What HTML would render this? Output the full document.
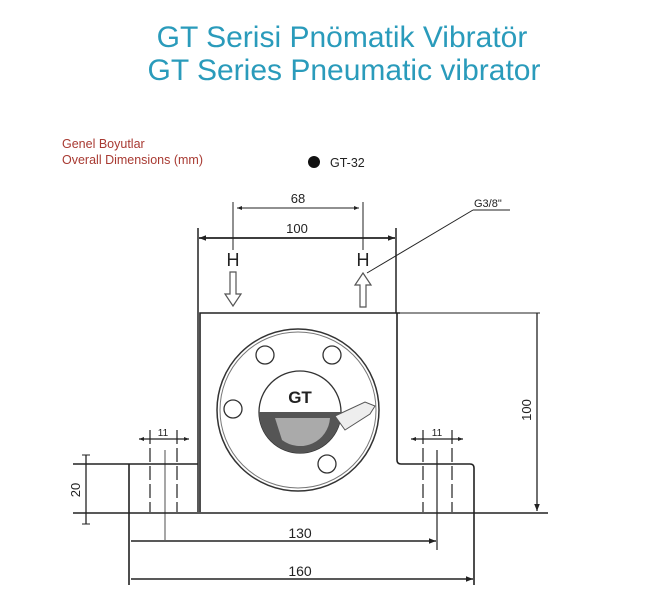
<!DOCTYPE html>
<html><head><meta charset="utf-8"><style>
html,body{margin:0;padding:0;background:#fff;width:656px;height:609px;overflow:hidden}
svg{display:block}
text{font-family:"Liberation Sans",Arial,sans-serif}
</style></head><body>
<svg width="656" height="609" viewBox="0 0 656 609" xmlns="http://www.w3.org/2000/svg">
<defs>
<marker id="a" viewBox="0 0 10 10" refX="10" refY="5" markerWidth="9" markerHeight="7" orient="auto-start-reverse" markerUnits="userSpaceOnUse"><path d="M0,1 L10,5 L0,9 z" fill="#222"/></marker>
<marker id="s" viewBox="0 0 10 10" refX="10" refY="5" markerWidth="7" markerHeight="5" orient="auto-start-reverse" markerUnits="userSpaceOnUse"><path d="M0,1 L10,5 L0,9 z" fill="#222"/></marker>
</defs>
<text x="342" y="47" font-size="30" fill="#2a9bbb" text-anchor="middle">GT Serisi Pnömatik Vibratör</text>
<text x="344" y="80" font-size="30" fill="#2a9bbb" text-anchor="middle">GT Series Pneumatic vibrator</text>
<text x="62" y="148" font-size="12.5" fill="#a83a32">Genel Boyutlar</text>
<text x="62" y="164" font-size="12.5" fill="#a83a32">Overall Dimensions (mm)</text>
<circle cx="314" cy="162" r="6" fill="#111"/>
<text x="330" y="167" font-size="12.5" fill="#222">GT-32</text>

<g stroke="#222" fill="none" stroke-width="1">
<line x1="233" y1="202" x2="233" y2="250"/>
<line x1="363" y1="202" x2="363" y2="250"/>
<line x1="237" y1="208" x2="359" y2="208" marker-start="url(#s)" marker-end="url(#s)"/>
<line x1="198" y1="228" x2="198" y2="512" stroke-width="1.5"/>
<line x1="396" y1="228" x2="396" y2="313" stroke-width="1.5"/>
<line x1="199" y1="238" x2="395" y2="238" stroke-width="1.8" marker-start="url(#a)" marker-end="url(#a)"/>
<line x1="473" y1="210" x2="510" y2="210"/>
<line x1="473" y1="210" x2="367" y2="273"/>
</g>
<text x="298" y="203" font-size="13" fill="#222" text-anchor="middle">68</text>
<text x="297" y="233" font-size="13" fill="#222" text-anchor="middle">100</text>
<text x="474" y="207" font-size="11" fill="#222">G3/8"</text>
<text x="233" y="266" font-size="18" fill="#222" text-anchor="middle">H</text>
<text x="363" y="266" font-size="18" fill="#222" text-anchor="middle">H</text>
<path d="M230,272 L236,272 L236,294 L241,294 L233,306 L225,294 L230,294 Z" fill="#fff" stroke="#555" stroke-width="1.2"/>
<path d="M360,307 L366,307 L366,285 L371,285 L363,273 L355,285 L360,285 Z" fill="#fff" stroke="#555" stroke-width="1.2"/>

<g stroke="#222" fill="none" stroke-width="1.6">
<path d="M200,512 L200,313 L400,313"/>
<line x1="400" y1="313" x2="540" y2="313" stroke-width="1"/>
<path d="M397,313 L397,460 Q397,464 401,464 L470,464 Q474,464 474,468 L474,585"/>
<path d="M73,464 L198,464"/>
<line x1="129" y1="464" x2="129" y2="585"/>
<line x1="73" y1="513" x2="548" y2="513"/>
</g>
<line x1="537" y1="313" x2="537" y2="511" stroke="#222" stroke-width="1.3" marker-end="url(#a)"/>
<text transform="translate(531,410) rotate(-90)" font-size="13" fill="#222" text-anchor="middle">100</text>
<line x1="86" y1="455" x2="86" y2="524" stroke="#222" stroke-width="1.3"/>
<line x1="82" y1="455" x2="90" y2="455" stroke="#222"/>
<line x1="82" y1="524" x2="90" y2="524" stroke="#222"/>
<text transform="translate(80,490) rotate(-90)" font-size="13" fill="#222" text-anchor="middle">20</text>
<g stroke="#222" stroke-width="1.2" fill="none">
<line x1="150" y1="430" x2="150" y2="512" stroke-dasharray="14,4"/>
<line x1="177" y1="430" x2="177" y2="512" stroke-dasharray="14,4"/>
<line x1="165" y1="450" x2="165" y2="540" stroke-width="0.8"/>
<line x1="139" y1="439" x2="189" y2="439" marker-start="url(#s)" marker-end="url(#s)"/>
<line x1="423" y1="430" x2="423" y2="512" stroke-dasharray="14,4"/>
<line x1="452" y1="430" x2="452" y2="512" stroke-dasharray="14,4"/>
<line x1="437" y1="450" x2="437" y2="550"/>
<line x1="411" y1="439" x2="463" y2="439" marker-start="url(#s)" marker-end="url(#s)"/>
<line x1="131" y1="541" x2="436" y2="541" stroke-width="1.5" marker-end="url(#a)"/>
<line x1="131" y1="579" x2="473" y2="579" stroke-width="1.5" marker-end="url(#a)"/>
</g>
<text x="163" y="436" font-size="10" fill="#222" text-anchor="middle">11</text>
<text x="437" y="436" font-size="10" fill="#222" text-anchor="middle">11</text>
<text x="300" y="538" font-size="14" fill="#222" text-anchor="middle">130</text>
<text x="300" y="576" font-size="14" fill="#222" text-anchor="middle">160</text>
<circle cx="298" cy="410" r="81" fill="none" stroke="#333" stroke-width="1.5"/>
<circle cx="298" cy="410" r="78" fill="none" stroke="#777" stroke-width="1"/>
<circle cx="265" cy="355" r="9" fill="#fff" stroke="#333" stroke-width="1.3"/>
<circle cx="332" cy="355" r="9" fill="#fff" stroke="#333" stroke-width="1.3"/>
<circle cx="233" cy="409" r="9" fill="#fff" stroke="#333" stroke-width="1.3"/>
<circle cx="327" cy="464" r="9" fill="#fff" stroke="#333" stroke-width="1.3"/>
<circle cx="300" cy="412" r="41" fill="#fff" stroke="#333" stroke-width="1.3"/>
<path d="M259,412 L341,412 A41,41 0 0 1 259,412 Z" fill="#555"/>
<path d="M275,418 L330,418 A30,30 0 0 1 282,440 Z" fill="#aaa"/>
<path d="M335,416 L365,402 L375,406 L370,414 L345,430 Z" fill="#eee" stroke="#555"/>
<text x="300" y="403" font-size="17" font-weight="bold" fill="#222" text-anchor="middle">GT</text>
</svg>
</body></html>
